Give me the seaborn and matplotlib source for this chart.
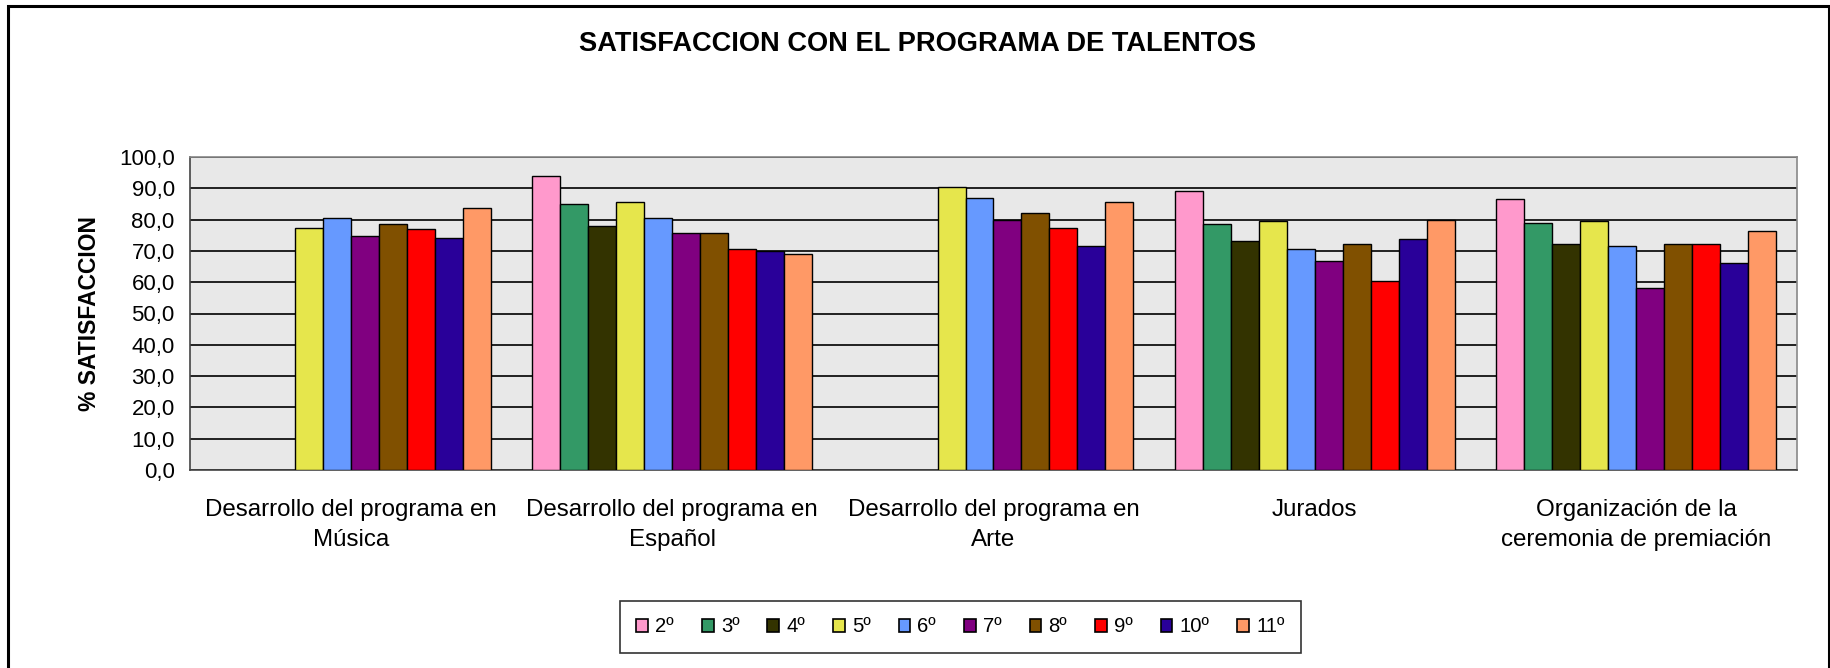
import numpy as np
import pandas as pd
import matplotlib
matplotlib.use("Agg")
import matplotlib.pyplot as plt
import seaborn as sns
from matplotlib.patches import Rectangle

categories = [
    "Desarrollo del programa en\nMúsica",
    "Desarrollo del programa en\nEspañol",
    "Desarrollo del programa en\nArte",
    "Jurados",
    "Organización de la\nceremonia de premiación",
]
grades = ["2º", "3º", "4º", "5º", "6º", "7º", "8º", "9º", "10º", "11º"]

nan = np.nan
grado_2 = [nan, 93.9, nan, 89.1, 86.5]
grado_3 = [nan, 84.9, nan, 78.5, 79.0]
grado_4 = [nan, 77.8, nan, 73.1, 72.1]
grado_5 = [77.3, 85.5, 90.3, 79.6, 79.6]
grado_6 = [80.6, 80.6, 86.9, 70.5, 71.5]
grado_7 = [74.7, 75.7, 79.8, 66.8, 58.1]
grado_8 = [78.5, 75.7, 82.1, 72.1, 72.1]
grado_9 = [76.9, 70.5, 77.3, 60.4, 72.1]
grado_10 = [74.1, 69.9, 71.5, 73.8, 66.1]
grado_11 = [83.6, 68.9, 85.5, 80.0, 76.4]

yticks = [0, 10, 20, 30, 40, 50, 60, 70, 80, 90, 100]

colors = ["#FF99CC", "#339966", "#333300", "#E6E64C", "#6699FF",
          "#800080", "#805000", "#FF0000", "#290099", "#FF9966"]

series = [grado_2, grado_3, grado_4, grado_5, grado_6,
          grado_7, grado_8, grado_9, grado_10, grado_11]
rows = []
for g, vals in zip(grades, series):
    for c, v in zip(categories, vals):
        rows.append({"categoria": c, "grado": g, "valor": v})
df = pd.DataFrame(rows)

sns.set_theme(style="white")
plt.rcParams["font.family"] = ["Liberation Sans", "DejaVu Sans"]
plt.rcParams["text.color"] = "black"
plt.rcParams["axes.labelcolor"] = "black"
plt.rcParams["xtick.color"] = "black"
plt.rcParams["ytick.color"] = "black"

W, H = 1831, 668
fig = plt.figure(figsize=(W / 100, H / 100), dpi=100)
fig.patch.set_facecolor("white")
ax = fig.add_axes([190 / W, 1 - 470 / H, (1797 - 190) / W, (470 - 157) / H])
ax.set_facecolor("#E8E8E8")

palette = dict(zip(grades, colors))
sns.barplot(data=df, x="categoria", y="valor", hue="grado", hue_order=grades,
            order=categories, palette=palette, width=0.87, errorbar=None,
            edgecolor="black", linewidth=1.0, saturation=1, ax=ax, zorder=3)
if ax.get_legend() is not None:
    ax.get_legend().remove()

ax.set_ylim(0, 100)
ax.set_xlim(-0.5, len(categories) - 0.5)
ax.set_yticks(yticks)
ax.set_yticklabels([f"{v:.1f}".replace(".", ",") for v in yticks], fontsize=16, color="black")
ax.yaxis.grid(True, color="black", linewidth=1.2, zorder=0)
ax.set_axisbelow(True)

ax.set_xticks(range(len(categories)))
ax.set_xticklabels(categories, fontsize=17.4, linespacing=1.45, color="black")
ax.tick_params(axis="x", which="major", length=0, pad=21)
ax.set_xticks(np.arange(-0.5, len(categories), 1.0), minor=True)
ax.tick_params(axis="x", which="minor", length=8, direction="out", color="#555555", width=1)
ax.tick_params(axis="y", which="major", length=7, direction="out", color="#555555", width=1, pad=4)

ax.set_xlabel("")
ax.set_ylabel("% SATISFACCION", fontsize=16.5, fontweight="bold", labelpad=13, color="black")

for side in ["left", "bottom"]:
    ax.spines[side].set_color("#444444")
    ax.spines[side].set_linewidth(1.2)
for side in ["top", "right"]:
    ax.spines[side].set_color("#888888")
    ax.spines[side].set_linewidth(1.2)

fig.text(918 / W, 1 - 44 / H, "SATISFACCION CON EL PROGRAMA DE TALENTOS",
         ha="center", va="center", fontsize=19.6, fontweight="bold", color="black")

handles = [Rectangle((0, 0), 1, 1, facecolor=c, edgecolor="black", linewidth=1.2)
           for c in colors]
leg = fig.legend(handles, grades, loc="center", bbox_to_anchor=(960.5 / W, 1 - 627 / H),
                 ncol=10, fontsize=14.6, frameon=True, fancybox=False,
                 handlelength=0.58, handleheight=0.58, handletextpad=0.35,
                 columnspacing=1.38, borderpad=0.8, labelcolor="black")
leg.get_frame().set_edgecolor("black")
leg.get_frame().set_linewidth(1.2)

fig.patches.append(Rectangle((8 / W, -0.05), (1829 - 8) / W, 1.05 - 6 / H,
                             transform=fig.transFigure, fill=False,
                             edgecolor="black", linewidth=2.2))

fig.savefig("out.png", dpi=100)
